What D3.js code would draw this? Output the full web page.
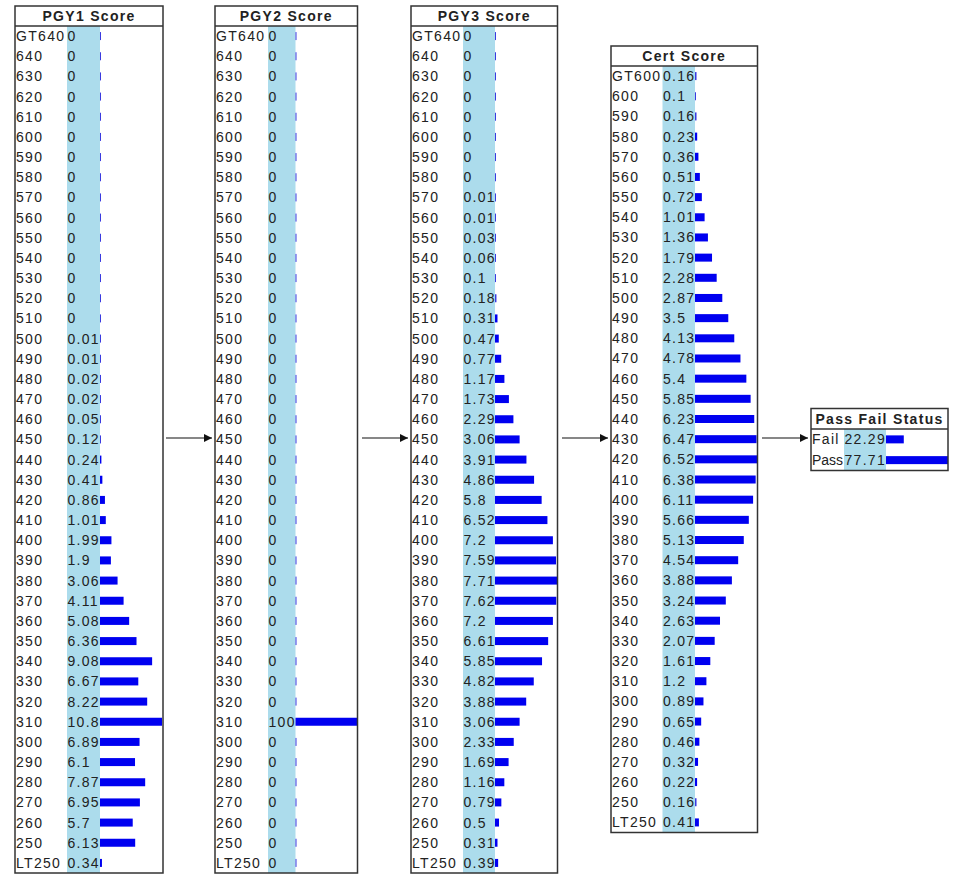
<!DOCTYPE html>
<html lang="en">
<head>
<meta charset="UTF-8">
<title>Score distributions</title>
<script src="https://d3js.org/d3.v7.min.js"></script>
<style>
  body { margin: 0; background: #fff; font-family: "Liberation Sans", Arial, sans-serif; }
  svg text { fill: #222; }
</style>
</head>
<body>
<div id="chart"></div>
<script>
// row labels
const pgyLabels = ["GT640", "640", "630", "620", "610", "600", "590", "580", "570", "560",
  "550", "540", "530", "520", "510", "500", "490", "480", "470", "460",
  "450", "440", "430", "420", "410", "400", "390", "380", "370", "360",
  "350", "340", "330", "320", "310", "300", "290", "280", "270", "260",
  "250", "LT250"];
const certLabels = ["GT600", "600", "590", "580", "570", "560", "550", "540", "530", "520",
  "510", "500", "490", "480", "470", "460", "450", "440", "430", "420",
  "410", "400", "390", "380", "370", "360", "350", "340", "330", "320",
  "310", "300", "290", "280", "270", "260", "250", "LT250"];
const statusLabels = ["Fail", "Pass"];

// values (%)
const pgy1Values = [0, 0, 0, 0, 0, 0, 0, 0, 0, 0,
  0, 0, 0, 0, 0, 0.01, 0.01, 0.02, 0.02, 0.05,
  0.12, 0.24, 0.41, 0.86, 1.01, 1.99, 1.9, 3.06, 4.11, 5.08,
  6.36, 9.08, 6.67, 8.22, 10.8, 6.89, 6.1, 7.87, 6.95, 5.7,
  6.13, 0.34];
const pgy2Values = [0, 0, 0, 0, 0, 0, 0, 0, 0, 0,
  0, 0, 0, 0, 0, 0, 0, 0, 0, 0,
  0, 0, 0, 0, 0, 0, 0, 0, 0, 0,
  0, 0, 0, 0, 100, 0, 0, 0, 0, 0,
  0, 0];
const pgy3Values = [0, 0, 0, 0, 0, 0, 0, 0, 0.01, 0.01,
  0.03, 0.06, 0.1, 0.18, 0.31, 0.47, 0.77, 1.17, 1.73, 2.29,
  3.06, 3.91, 4.86, 5.8, 6.52, 7.2, 7.59, 7.71, 7.62, 7.2,
  6.61, 5.85, 4.82, 3.88, 3.06, 2.33, 1.69, 1.16, 0.79, 0.5,
  0.31, 0.39];
const certValues = [0.16, 0.1, 0.16, 0.23, 0.36, 0.51, 0.72, 1.01, 1.36, 1.79,
  2.28, 2.87, 3.5, 4.13, 4.78, 5.4, 5.85, 6.23, 6.47, 6.52,
  6.38, 6.11, 5.66, 5.13, 4.54, 3.88, 3.24, 2.63, 2.07, 1.61,
  1.2, 0.89, 0.65, 0.46, 0.32, 0.22, 0.16, 0.41];
const statusValues = [22.29, 77.71];

const width = 957, height = 880;
const svg = d3.select("#chart").append("svg")
  .attr("width", width)
  .attr("height", height);
const defs = svg.append("defs");

// arrow marker
defs.append("marker")
  .attr("id", "arrow")
  .attr("viewBox", [0, 0, 10, 10])
  .attr("refX", 10).attr("refY", 5)
  .attr("markerWidth", 8).attr("markerHeight", 10)
  .attr("markerUnits", "userSpaceOnUse")
  .attr("orient", "auto")
  .append("path")
  .attr("d", d3.line()([[0, 0], [10, 5], [0, 10]]))
  .attr("fill", "#111");

function drawPanel(p) {
  const g = svg.append("g");
  const y = d3.scaleBand().domain(p.labels).range([p.titleBottom, p.bottom]);
  const x = d3.scaleLinear().domain([0, d3.max(p.values)]).range([p.colRight, p.colRight + 62]);

  // light blue value column
  g.append("rect")
    .attr("x", p.colLeft).attr("y", p.titleBottom)
    .attr("width", p.colRight - p.colLeft).attr("height", p.bottom - p.titleBottom)
    .attr("fill", "#acdcec");

  const rows = g.selectAll(".row").data(p.labels).enter().append("g")
    .attr("transform", d => `translate(0,${y(d) + y.bandwidth() / 2})`);

  rows.append("rect")
    .attr("x", p.colRight)
    .attr("y", -4)
    .attr("height", 8)
    .attr("width", (d, i) => Math.max(x(p.values[i]) - p.colRight, 1))
    .attr("fill", (d, i) => p.values[i] > 0.2 ? "#0000f0" : "#3a3ae0");

  // row labels, squeezed if they would run into the value column
  const room = p.colLeft - p.left - 2;
  rows.append("text")
    .attr("x", p.left + 1).attr("y", 5)
    .style("font-size", "14px").style("letter-spacing", "1.3px")
    .text(d => d)
    .each(function () {
      if (this.getComputedTextLength() > room) {
        d3.select(this).style("letter-spacing", "0px")
          .attr("textLength", room).attr("lengthAdjust", "spacingAndGlyphs");
      }
    });

  rows.append("text")
    .attr("x", p.colLeft + 0.5).attr("y", 5)
    .style("font-size", "14px").style("letter-spacing", "1.3px")
    .text((d, i) => p.values[i]);

  // title
  g.append("text")
    .attr("x", (p.left + p.right) / 2).attr("y", (p.top + p.titleBottom) / 2 + 5)
    .attr("text-anchor", "middle")
    .style("font-size", "14px").style("font-weight", "bold").style("letter-spacing", "1.3px")
    .text(p.title);

  // box and title separator
  g.append("rect")
    .attr("x", p.left).attr("y", p.top)
    .attr("width", p.right - p.left).attr("height", p.bottom - p.top)
    .attr("fill", "none").attr("stroke", "#333").attr("stroke-width", 1.5);
  g.append("line")
    .attr("x1", p.left).attr("x2", p.right)
    .attr("y1", p.titleBottom).attr("y2", p.titleBottom)
    .attr("stroke", "#333").attr("stroke-width", 1.5);
}

drawPanel({ title: "PGY1 Score", labels: pgyLabels, values: pgy1Values,
  left: 15, right: 163, top: 6, titleBottom: 26, bottom: 873, colLeft: 67, colRight: 100 });
drawPanel({ title: "PGY2 Score", labels: pgyLabels, values: pgy2Values,
  left: 215, right: 357.5, top: 6, titleBottom: 26, bottom: 873, colLeft: 268, colRight: 295.5 });
drawPanel({ title: "PGY3 Score", labels: pgyLabels, values: pgy3Values,
  left: 411, right: 557.5, top: 6, titleBottom: 26, bottom: 873, colLeft: 463, colRight: 495 });
drawPanel({ title: "Cert Score", labels: certLabels, values: certValues,
  left: 611, right: 757.5, top: 46, titleBottom: 66, bottom: 832.5, colLeft: 662.5, colRight: 695 });
drawPanel({ title: "Pass Fail Status", labels: statusLabels, values: statusValues,
  left: 811, right: 948, top: 408.5, titleBottom: 429, bottom: 470.5, colLeft: 844, colRight: 886 });

// connecting arrows
const arrows = [[166, 212], [362, 408], [562, 608], [762, 808]];
svg.selectAll(".arrow").data(arrows).enter().append("line")
  .attr("x1", d => d[0]).attr("x2", d => d[1])
  .attr("y1", 438).attr("y2", 438)
  .attr("stroke", "#111").attr("stroke-width", 1.2)
  .attr("marker-end", "url(#arrow)");
</script>
</body>
</html>
